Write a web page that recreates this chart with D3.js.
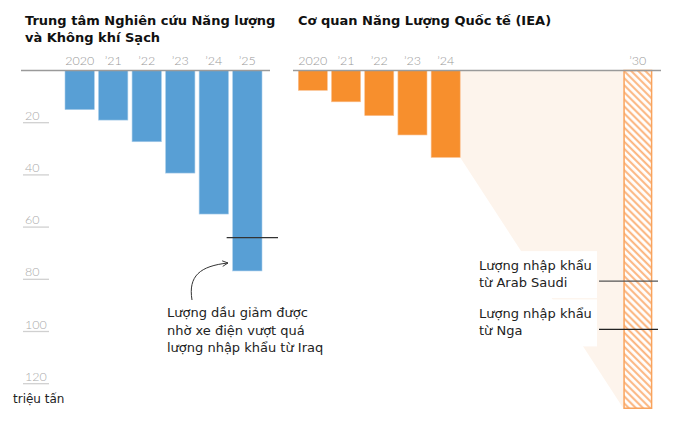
<!DOCTYPE html>
<html>
<head>
<meta charset="utf-8">
<script src="https://cdn.jsdelivr.net/npm/d3@7"></script>
<style>
  body { margin: 0; background: #fff; }
  svg { display: block; }
  .title { font-family: "DejaVu Sans", sans-serif; font-weight: bold; font-size: 13px; fill: #111; }
  .year { font-family: Lato, sans-serif; font-weight: 300; font-size: 12.5px; fill: #999; }
  .tick-label { font-family: Lato, sans-serif; font-weight: 300; font-size: 12.5px; fill: #aaa; }
  .note { font-family: "DejaVu Sans", sans-serif; font-size: 13px; fill: #222; }
</style>
</head>
<body>
<div id="chart"></div>
<script>
// Clean Energy & Clean Air research centre (left panel)
var creaYears = ["2020", "\u201921", "\u201922", "\u201923", "\u201924", "\u201925"];
var creaValues = [15, 19, 27.3, 39.3, 55, 76.8];
var iraqImports = 64;

// IEA (right panel)
var ieaYears = ["2020", "\u201921", "\u201922", "\u201923", "\u201924"];
var ieaValues = [7.6, 12, 17.3, 24.7, 33.3];
var iea2030Label = "\u201930";
var iea2030Value = 129.4;
var saudiImports = 80.7;
var russiaImports = 99.2;

var yTicks = [20, 40, 60, 80, 100, 120];

var width = 680, height = 424;

var svg = d3.select("#chart").append("svg")
    .attr("width", width)
    .attr("height", height);

// hatch for the 2030 projection
var defs = svg.append("defs");
defs.append("pattern")
    .attr("id", "hatch")
    .attr("patternUnits", "userSpaceOnUse")
    .attr("width", 5)
    .attr("height", 5)
    .attr("patternTransform", "rotate(-45)")
  .append("line")
    .attr("x1", 1.2).attr("y1", 0)
    .attr("x2", 1.2).attr("y2", 5)
    .attr("stroke", "#fbb27a")
    .attr("stroke-width", 2);

// scales
var y = d3.scaleLinear().domain([0, 120]).range([70.5, 383.7]);

var xLeft = d3.scaleBand()
    .domain(creaYears)
    .range([65, 262])
    .paddingInner(0.125)
    .paddingOuter(0);

var xRight = d3.scaleBand()
    .domain(ieaYears)
    .range([298.3, 460.2])
    .paddingInner(0.125)
    .paddingOuter(0);

var x2030 = 623.3;
var bw = xRight.bandwidth();

// titles
svg.append("text").attr("class", "title").attr("x", 25).attr("y", 25)
    .text("Trung tâm Nghiên cứu Năng lượng");
svg.append("text").attr("class", "title").attr("x", 25).attr("y", 42)
    .text("và Không khí Sạch");
svg.append("text").attr("class", "title").attr("x", 298).attr("y", 25)
    .text("Cơ quan Năng Lượng Quốc tế (IEA)");

// y ticks (left side)
var ticks = svg.append("g").attr("class", "y-ticks");
ticks.selectAll("line").data(yTicks).enter().append("line")
    .attr("x1", 23).attr("x2", 49)
    .attr("y1", d => y(d)).attr("y2", d => y(d))
    .attr("stroke", "#d0d0d0").attr("stroke-width", 1.3);
ticks.selectAll("text").data(yTicks).enter().append("text")
    .attr("class", "tick-label")
    .attr("x", 25).attr("y", d => y(d) - 3)
    .text(d => d);

svg.append("text").attr("class", "note")
    .attr("x", 13).attr("y", 403)
    .style("font-size", "12px")
    .text("triệu tấn");

// projection fan, drawn first so bars sit on it
var fanX0 = xRight(ieaYears[ieaYears.length - 1]) + bw;
var fan = [
  [fanX0, y(0)],
  [x2030, y(0)],
  [x2030, y(iea2030Value)],
  [fanX0, y(ieaValues[ieaValues.length - 1])]
];
svg.append("path")
    .attr("d", d3.line()(fan) + "Z")
    .attr("fill", "#fdf4ec");

// left bars
svg.append("g").selectAll("rect").data(creaValues).enter().append("rect")
    .attr("x", (d, i) => xLeft(creaYears[i]))
    .attr("y", y(0))
    .attr("width", xLeft.bandwidth())
    .attr("height", d => y(d) - y(0))
    .attr("fill", "#589fd5")
    .attr("stroke", "#a9cdea")
    .attr("stroke-width", 0.6);

// right bars
svg.append("g").selectAll("rect").data(ieaValues).enter().append("rect")
    .attr("x", (d, i) => xRight(ieaYears[i]))
    .attr("y", y(0))
    .attr("width", bw)
    .attr("height", d => y(d) - y(0))
    .attr("fill", "#f78f2d")
    .attr("stroke", "#fbc08f")
    .attr("stroke-width", 0.6);

svg.append("rect")
    .attr("x", x2030 + 0.75)
    .attr("y", y(0))
    .attr("width", bw - 1.5)
    .attr("height", y(iea2030Value) - y(0))
    .attr("fill", "url(#hatch)")
    .attr("stroke", "#f9a35c")
    .attr("stroke-width", 1.5);

// year labels
svg.append("g").selectAll("text").data(creaYears).enter().append("text")
    .attr("class", "year")
    .attr("x", d => xLeft(d) + xLeft.bandwidth() / 2)
    .attr("y", 65)
    .attr("text-anchor", "middle")
    .text(d => d);

svg.append("g").selectAll("text").data(ieaYears.concat([iea2030Label])).enter().append("text")
    .attr("class", "year")
    .attr("x", (d, i) => (i < ieaYears.length ? xRight(d) : x2030) + bw / 2)
    .attr("y", 65)
    .attr("text-anchor", "middle")
    .text(d => d);

// baselines
svg.append("line").attr("x1", 21).attr("x2", 270)
    .attr("y1", y(0)).attr("y2", y(0))
    .attr("stroke", "#9a9a9a").attr("stroke-width", 1.5);
svg.append("line").attr("x1", 293).attr("x2", 661)
    .attr("y1", y(0)).attr("y2", y(0))
    .attr("stroke", "#9a9a9a").attr("stroke-width", 1.5);

// Iraq marker and note
svg.append("line")
    .attr("x1", xLeft(creaYears[5]) - 6).attr("x2", 278)
    .attr("y1", y(iraqImports)).attr("y2", y(iraqImports))
    .attr("stroke", "#333").attr("stroke-width", 1.2);

defs.append("marker")
    .attr("id", "arrow")
    .attr("viewBox", "0 0 10 10")
    .attr("refX", 9).attr("refY", 5)
    .attr("markerWidth", 7).attr("markerHeight", 7)
    .attr("orient", "auto")
  .append("path")
    .attr("d", "M1,1 L9,5 L1,9")
    .attr("fill", "none")
    .attr("stroke", "#333")
    .attr("stroke-width", 1.3);

svg.append("path")
    .attr("d", "M192,300 C188,276 200,266 228,263")
    .attr("fill", "none")
    .attr("stroke", "#333")
    .attr("stroke-width", 1)
    .attr("marker-end", "url(#arrow)");

var iraqNote = ["Lượng dầu giảm được", "nhờ xe điện vượt quá", "lượng nhập khẩu từ Iraq"];
svg.append("g").selectAll("text").data(iraqNote).enter().append("text")
    .attr("class", "note")
    .attr("x", 167)
    .attr("y", (d, i) => 317 + i * 17.5)
    .text(d => d);

// Saudi / Russia markers
var markers = [
  {value: saudiImports, lines: ["Lượng nhập khẩu", "từ Arab Saudi"], color: "#555"},
  {value: russiaImports, lines: ["Lượng nhập khẩu", "từ Nga"], color: "#222"}
];

markers.forEach(function(m){
  var g = svg.append("g");
  g.append("rect")
      .attr("x", 474).attr("y", y(m.value) - 30)
      .attr("width", 123).attr("height", 47)
      .attr("fill", "#fff");
  g.append("line")
      .attr("x1", 599).attr("x2", 658)
      .attr("y1", y(m.value)).attr("y2", y(m.value))
      .attr("stroke", m.color).attr("stroke-width", 1.2);
  g.selectAll("text").data(m.lines).enter().append("text")
      .attr("class", "note")
      .attr("x", 479)
      .attr("y", (d, i) => y(m.value) - 11 + i * 17)
      .text(d => d);
});
</script>
</body>
</html>
